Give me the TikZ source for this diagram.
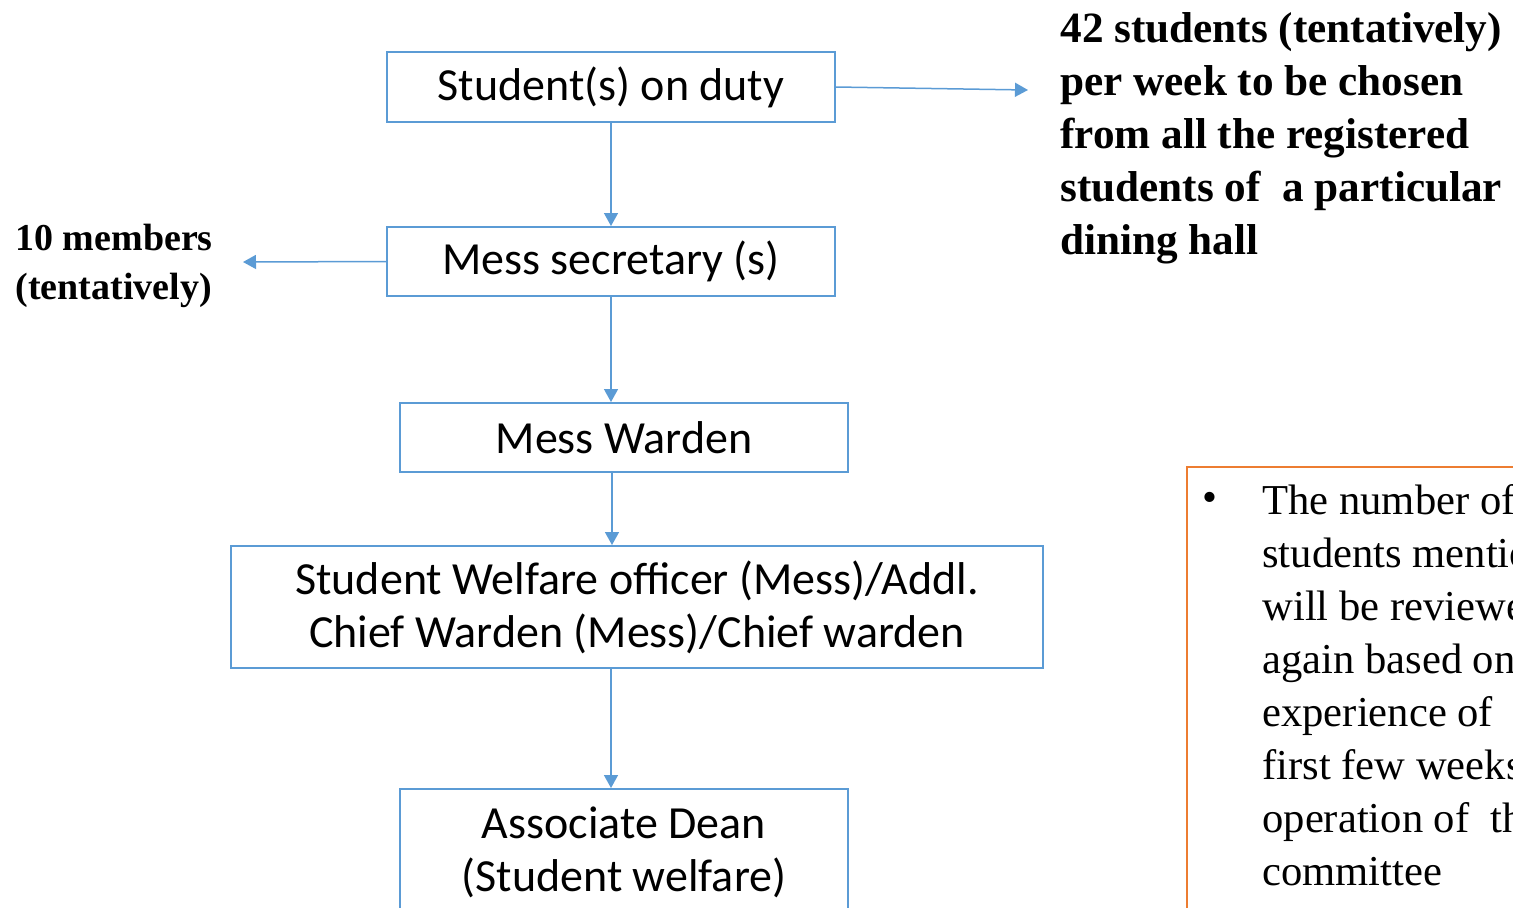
\documentclass[tikz,border=0pt]{standalone}
\usepackage{fontspec}
\setmainfont{Liberation Serif}
\newfontfamily\boxfont{Carlito}
\usetikzlibrary{arrows.meta}
\definecolor{lineblue}{HTML}{5B9BD5}
\definecolor{noteorange}{HTML}{ED7D31}
\begin{document}
\begin{tikzpicture}[x=0.5pt,y=-0.5pt,
  stagebox/.style={draw=lineblue,line width=1pt,inner sep=0pt,align=center,
    font=\boxfont\fontsize{23pt}{26.5pt}\selectfont},
  link/.style={draw=lineblue,line width=0.75pt,-{Triangle[length=6.5pt,width=7pt]}},
  remark/.style={inner sep=0pt,align=left,font=\bfseries\fontsize{21.6pt}{26.5pt}\selectfont},
  notetext/.style={inner sep=0pt,align=left,font=\fontsize{21.3pt}{26.5pt}\selectfont}]
  \path[use as bounding box] (0,0) rectangle (1513,907);
  \clip (0,0) rectangle (1513,907);

  % chain of responsibility
  \node[stagebox,minimum width=224pt,minimum height=35pt] (duty) at (611,87) {Student(s) on duty};
  \node[stagebox,minimum width=224pt,minimum height=34.5pt] (secy) at (611,261.5) {Mess secretary (s)};
  \node[stagebox,minimum width=224pt,minimum height=34.5pt] (warden) at (624,437.5) {Mess Warden};
  \node[stagebox,minimum width=406pt,minimum height=61pt] (welfare) at (637,607) {Student Welfare officer (Mess)/Addl.\\Chief Warden (Mess)/Chief warden};
  \node[stagebox,minimum width=224pt,minimum height=64pt,anchor=north] (dean) at (624,788) {};
  \node[inner sep=0pt,align=center,font=\boxfont\fontsize{23pt}{26.5pt}\selectfont] (deantext) at (624,852) {Associate Dean\\(Student welfare)};

  % side remarks
  \node[remark,anchor=west] (perweek) at (1060,138) {42 students (tentatively)\\per week to be chosen\\from all the registered\\students of \ a particular\\dining hall};
  \node[remark,anchor=west,font=\bfseries\fontsize{19pt}{24.5pt}\selectfont] (members) at (15,266) {10 members\\(tentatively)};

  % note box
  \node[draw=noteorange,line width=1pt,minimum width=200pt,minimum height=240pt,anchor=north west,inner sep=0pt] (note) at (1186,466) {};
  \node[inner sep=0pt,font=\fontsize{21.3pt}{26.5pt}\selectfont] (bullet) at (1210,502) {\textbullet};
  \node[notetext,anchor=north west] (notebody) at (1262,484) {The number of\\students mentioned\\will be reviewed\\again based on\\experience of \ the\\first few weeks of\\operation of \ the\\committee};

  % connectors
  \coordinate (weekend) at (1028,90);
  \coordinate (membend) at (243,262);
  \path[link] (duty.south) -- (secy.north);
  \path[link] (secy.south) -- (secy.south |- warden.north);
  \path[link] (warden.south -| 612,0) -- (612,0 |- welfare.north);
  \path[link] (611,0 |- welfare.south) -- (611,0 |- dean.north);
  \path[link] (duty.east) -- (weekend);
  \path[link] (secy.west) -- (membend);
\end{tikzpicture}
\end{document}
